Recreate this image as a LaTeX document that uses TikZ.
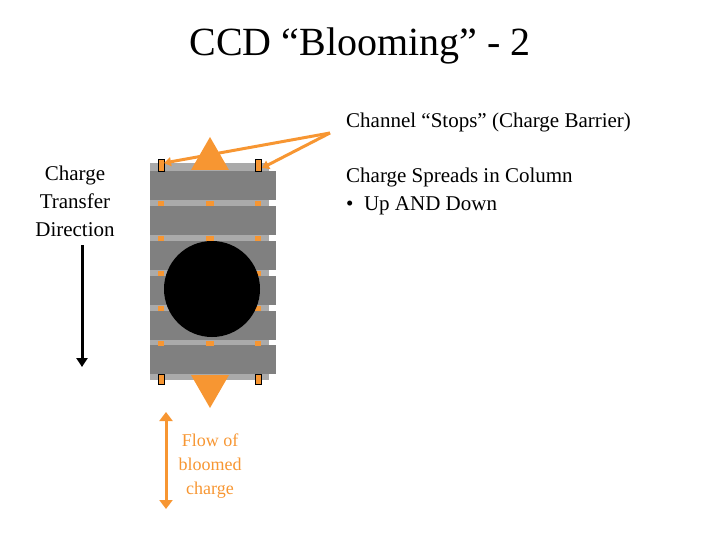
\documentclass[tikz,border=0pt]{standalone}
\usepackage{fontspec}
\setmainfont{Liberation Serif}
\usetikzlibrary{arrows.meta}
\definecolor{org}{RGB}{247,150,50}
\definecolor{dgray}{RGB}{128,128,128}
\definecolor{lgray}{RGB}{170,170,170}
\begin{document}
\begin{tikzpicture}[x=1pt,y=-1pt,
  stop/.style={fill=org,draw=black,line width=0.5pt},
  txt/.style={font=\fontsize{21}{28}\selectfont,align=center,inner sep=0}]
\useasboundingbox (0,0) rectangle (720,540);
\node[font=\fontsize{40}{44}\selectfont] (title) at (360,46) {CCD “Blooming” - 2};
\fill[lgray] (150,163) rectangle (269,380);
\foreach \y in {171,206,241,276,311,345}{\fill[dgray] (150,\y) rectangle (276,\y+29);}
\foreach \y in {201,236,271,306,341}{\fill[org] (206,\y) rectangle (214,\y+5);
  \fill[org] (158,\y) rectangle (164,\y+5);\fill[org] (255,\y) rectangle (261,\y+5);}
\foreach \x in {158,255}{\draw[stop] (\x,159) rectangle (\x+6,171);\draw[stop] (\x,374) rectangle (\x+6,384);}
\node[circle,fill=black,minimum size=96,inner sep=0] (spot) at (212,289) {};
\fill[org] (210,137) -- (229,170) -- (191,170) -- cycle;
\fill[org] (210,408) -- (229,375) -- (191,375) -- cycle;
\node[txt,anchor=west] (stops) at (346,122) {Channel “Stops” (Charge Barrier)};
\coordinate (s0) at (330,133);
\coordinate (sl) at (164,163);
\coordinate (sr) at (262,168);
\draw[org,line width=3pt,-{Triangle[length=7pt,width=9pt]}] (s0) -- (sl);
\draw[org,line width=3pt,-{Triangle[length=7pt,width=9pt]}] (s0) -- (sr);
\node[txt,anchor=north west,align=left] (spread) at (346,168) {Charge Spreads in Column\\• \ Up AND Down};
\node[txt] (ctd) at (75,201) {Charge\\Transfer\\Direction};
\coordinate (a1) at (82,245);
\coordinate (a2) at (82,367);
\draw[black,line width=3pt,-{Triangle[length=9pt,width=11pt]}] (a1) -- (a2);
\coordinate (f1) at (166,412);
\coordinate (f2) at (166,509);
\draw[org,line width=3pt,{Triangle[length=9pt,width=13pt]}-{Triangle[length=9pt,width=13pt]}] (f1) -- (f2);
\node[txt,text=org,font=\fontsize{18}{24}\selectfont] (flow) at (210,466) {Flow of\\bloomed\\charge};
\end{tikzpicture}
\end{document}
